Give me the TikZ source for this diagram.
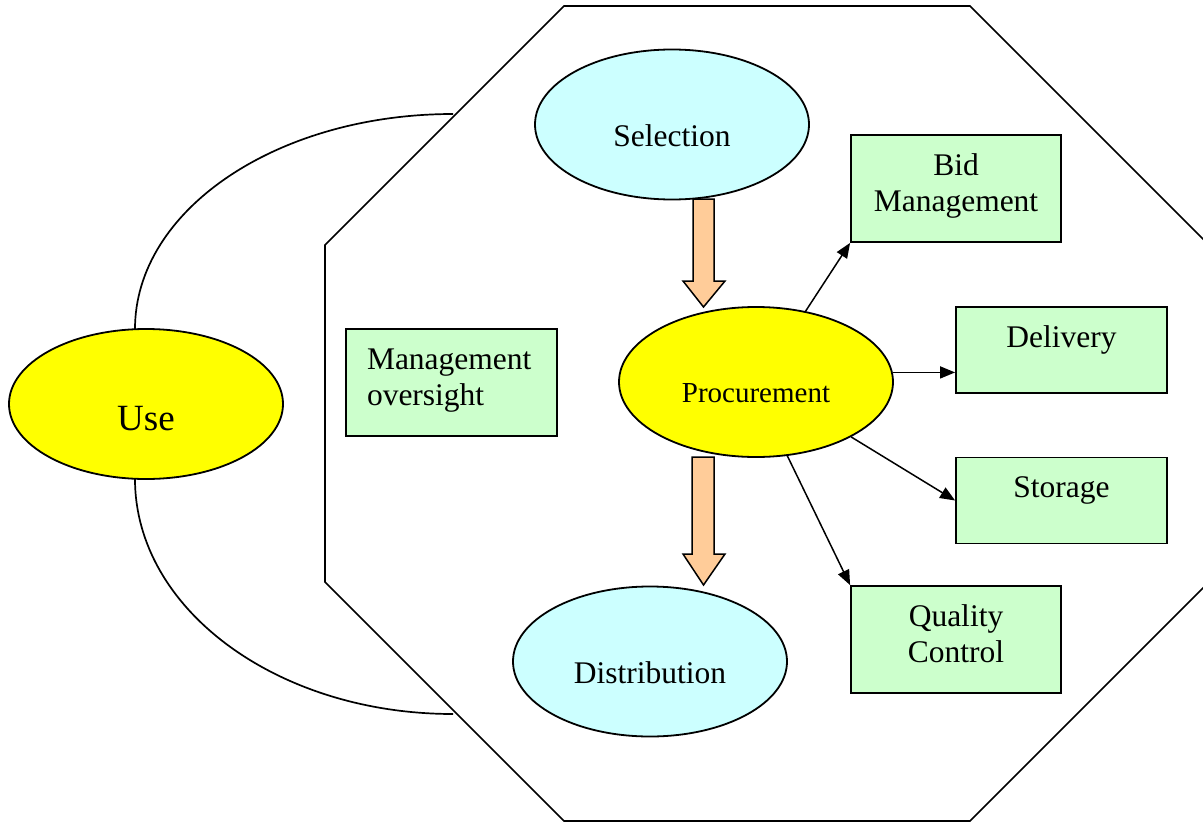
\documentclass[tikz,border=0pt]{standalone}
\usepackage{fontspec}
\setmainfont{Liberation Serif}
\usetikzlibrary{arrows.meta,calc,shapes.geometric}
\definecolor{cyanfill}{HTML}{CCFFFF}
\definecolor{yellowfill}{HTML}{FFFF00}
\definecolor{greenfill}{HTML}{CCFFCC}
\definecolor{orangefill}{HTML}{FFCC99}
\newcommand\topbox[3]{\parbox[c][#2][t]{#1}{\vspace*{14.5pt}#3}}
\begin{document}
\begin{tikzpicture}[x=1pt,y=-1pt,
  ell/.style={ellipse, draw, line width=1.8pt, inner sep=0pt,
    minimum width=274pt, minimum height=150pt, text depth=0pt},
  greenbox/.style={rectangle, draw, line width=1.8pt, fill=greenfill, inner sep=0pt,
    font=\fontsize{31.5}{36.5}\selectfont},
  arr/.style={line width=1.5pt, -{Triangle[length=15pt,width=12pt]}},
  blockarrow/.style={draw, line width=1.5pt, fill=orangefill, line join=miter},
  outline/.style={draw, line width=1.7pt}
]
\useasboundingbox (0,0) rectangle (1203,822);
\clip (0,0) rectangle (1203,822);

% octagon
\draw[outline] (564,6) -- (970,6) -- (1209,245) -- (1209,582) -- (970,821)
  -- (564,821) -- (325,582) -- (325,245) -- cycle;

% arcs around Use
\coordinate (arcTopStart) at (135,329);
\coordinate (arcTopEnd) at (453,114);
\coordinate (arcBotStart) at (135,479);
\coordinate (arcBotEnd) at (453,714);
\draw[outline] (arcTopStart) .. controls (135,210) and (277,114) .. (arcTopEnd);
\draw[outline] (arcBotStart) .. controls (135,609) and (277,714) .. (arcBotEnd);

% ellipses
\node[ell, fill=yellowfill, font=\fontsize{37}{42}\selectfont, text height=52pt] (use) at (146,404) {Use};
\node[ell, fill=cyanfill, font=\fontsize{31.5}{36}\selectfont, text height=43pt] (sel) at (672,124.5) {Selection};
\node[ell, fill=yellowfill, font=\fontsize{29}{33}\selectfont, text height=40pt] (proc) at (756,382) {Procurement};
\node[ell, fill=cyanfill, font=\fontsize{31.5}{36}\selectfont, text height=43pt] (dist) at (650,661.5) {Distribution};

% boxes
\node[greenbox] (mgmt) at (451.5,382.5) {\topbox{211pt}{107pt}{\raggedright\leftskip=21pt\strut Management\\\strut oversight}};
\node[greenbox] (bid) at (956,188.5) {\topbox{210pt}{107pt}{\centering\strut Bid\\\strut Management}};
\node[greenbox] (del) at (1061.5,350) {\topbox{211pt}{86pt}{\centering\strut Delivery}};
\node[greenbox] (sto) at (1061.5,500.5) {\topbox{211pt}{86pt}{\centering\strut Storage}};
\node[greenbox] (qc) at (956,639.5) {\topbox{210pt}{107pt}{\centering\strut Quality\\\strut Control}};

% block arrows
\draw[blockarrow] (693,199) -- (714,199) -- (714,281) -- (725,281) -- (703.5,307)
  -- (683,281) -- (693,281) -- cycle;
\draw[blockarrow] (692,457) -- (714,457) -- (714,554) -- (725,554) -- (703.5,585)
  -- (683,554) -- (692,554) -- cycle;

% thin arrows
\draw[arr] (proc.55) -- (bid.south west);
\draw[arr] (proc.4) -- (proc.4 -| del.west);
\draw[arr] (proc.-30) -- (sto.west);
\draw[arr] (proc.-67) -- (qc.north west);
\end{tikzpicture}
\end{document}
